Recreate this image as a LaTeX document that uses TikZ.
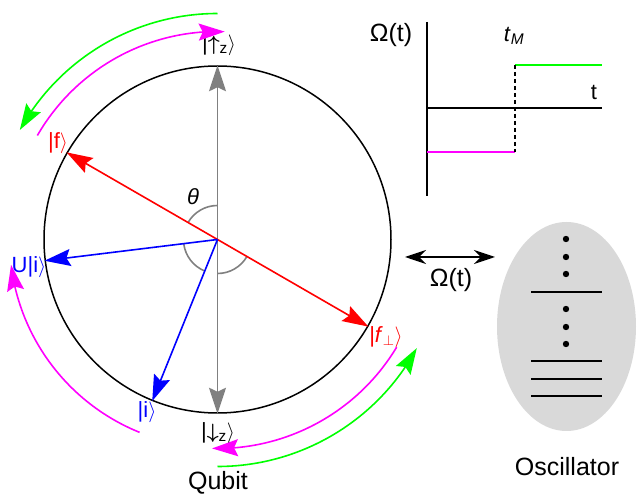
\documentclass[tikz,border=0pt]{standalone}
\usepackage{amsmath}
\usepackage{fontspec}
\setmainfont{Liberation Sans}
\usetikzlibrary{arrows.meta, bending, shapes.geometric}
\definecolor{spinred}{HTML}{FF0000}
\definecolor{stateblue}{HTML}{0000FF}
\definecolor{axisgray}{HTML}{808080}
\definecolor{drivegreen}{HTML}{00FF00}
\definecolor{drivemagenta}{HTML}{FF00FF}
\definecolor{oscgray}{HTML}{D9D9D9}
\tikzset{
  lbl/.style={font=\fontsize{22}{24}\selectfont, inner sep=0pt},
  biglbl/.style={font=\fontsize{25}{27}\selectfont, inner sep=0pt},
  vec/.style={line width=1.6pt},
  sweep/.style={line width=1.6pt, ->},
  anglearc/.style={axisgray, line width=1.6pt},
  level/.style={line width=1.4pt},
}

\begin{document}
\begin{tikzpicture}[x=1pt, y=1pt, >={Stealth[length=26pt, width=17pt, inset=4pt]}]
  \useasboundingbox (0,0) rectangle (641,496);
  % qubit
  \coordinate (O) at (217.5,256.5);
  \node[circle, draw, line width=1.5pt, minimum size=347pt, inner sep=0pt] (bloch) at (O) {};
  \draw[anglearc] (O) ++(90:34) arc[start angle=90, end angle=150, radius=34];
  \draw[anglearc] (O) ++(187:34) arc[start angle=187, end angle=248, radius=34];
  \draw[anglearc] (O) ++(270:34) arc[start angle=270, end angle=330, radius=34];
  \draw[vec, axisgray, <->] (bloch.270) -- (bloch.90);
  \draw[vec, spinred, <->] (bloch.330) -- (bloch.150);
  \draw[vec, stateblue, ->] (O) -- (bloch.187);
  \draw[vec, stateblue, ->] (O) -- (bloch.248);
  \node[lbl] (up) at (219,451) {|$\boldsymbol{\uparrow}$\textsubscript{z}$\rangle$};
  \node[lbl] (down) at (218,63) {|$\boldsymbol{\downarrow}$\textsubscript{z}$\rangle$};
  \node[lbl, spinred] (f) at (58,353) {|f$\rangle$};
  \node[lbl, spinred] (fperp) at (386,159) {|\textit{f}$_\perp\rangle$};
  \node[lbl, stateblue] (Ui) at (29,229) {U|i$\rangle$};
  \node[lbl, stateblue] (i) at (147,84) {|i$\rangle$};
  \node[lbl] (theta) at (193,299) {\textit{θ}};
  \node[biglbl] (qubit) at (218,13) {Qubit};
  % drive sweeps
  \draw[sweep, drivegreen] (O) ++(90:226) arc[start angle=90, end angle=151, radius=226];
  \draw[sweep, drivemagenta] (O) ++(150:208) arc[start angle=150, end angle=88, radius=208];
  \draw[sweep, drivemagenta] (O) ++(248:208) arc[start angle=248, end angle=187, radius=208];
  \draw[sweep, drivemagenta] (O) ++(-31:209) arc[start angle=-31, end angle=-91.5, radius=209];
  \draw[sweep, drivegreen] (O) ++(-90:227) arc[start angle=-90, end angle=-28.6, radius=227];
  % coupling
  \coordinate (cl) at (405,239);
  \coordinate (cr) at (495,239);
  \draw[line width=1.6pt, {Stealth[length=21pt, width=14pt]}-{Stealth[length=21pt, width=14pt]}] (cl) -- (cr);
  \node[biglbl] (omega) at (451,216) {Ω(t)};
  % drive amplitude
  \draw[line width=1.4pt] (427,474) -- (427,300);
  \draw[line width=1.4pt] (427,388) -- (602,388);
  \draw[line width=1.4pt, drivemagenta] (427,344) -- (515,344);
  \draw[line width=1.4pt, drivegreen] (515,431) -- (602,431);
  \draw[line width=1.4pt, dash pattern=on 4pt off 3pt] (515,431) -- (515,344);
  \node[biglbl] (omegaaxis) at (391,461) {Ω(t)};
  \node[lbl] (tM) at (514,460) {\textit{t}\textsubscript{\textit{M}}};
  \node[lbl] (t) at (594,404) {t};
  % oscillator
  \node[ellipse, fill=oscgray, minimum width=139pt, minimum height=209pt] (osc) at (566.5,169.5) {};
  \foreach \y in {257,239,222,187,169,152}
    \fill (566,\y) circle[radius=3.2];
  \foreach \y in {204,135,117,100}
    \draw[level] (531,\y) -- (602,\y);
  \node[biglbl] (osclbl) at (567,29) {Oscillator};
\end{tikzpicture}
\end{document}
